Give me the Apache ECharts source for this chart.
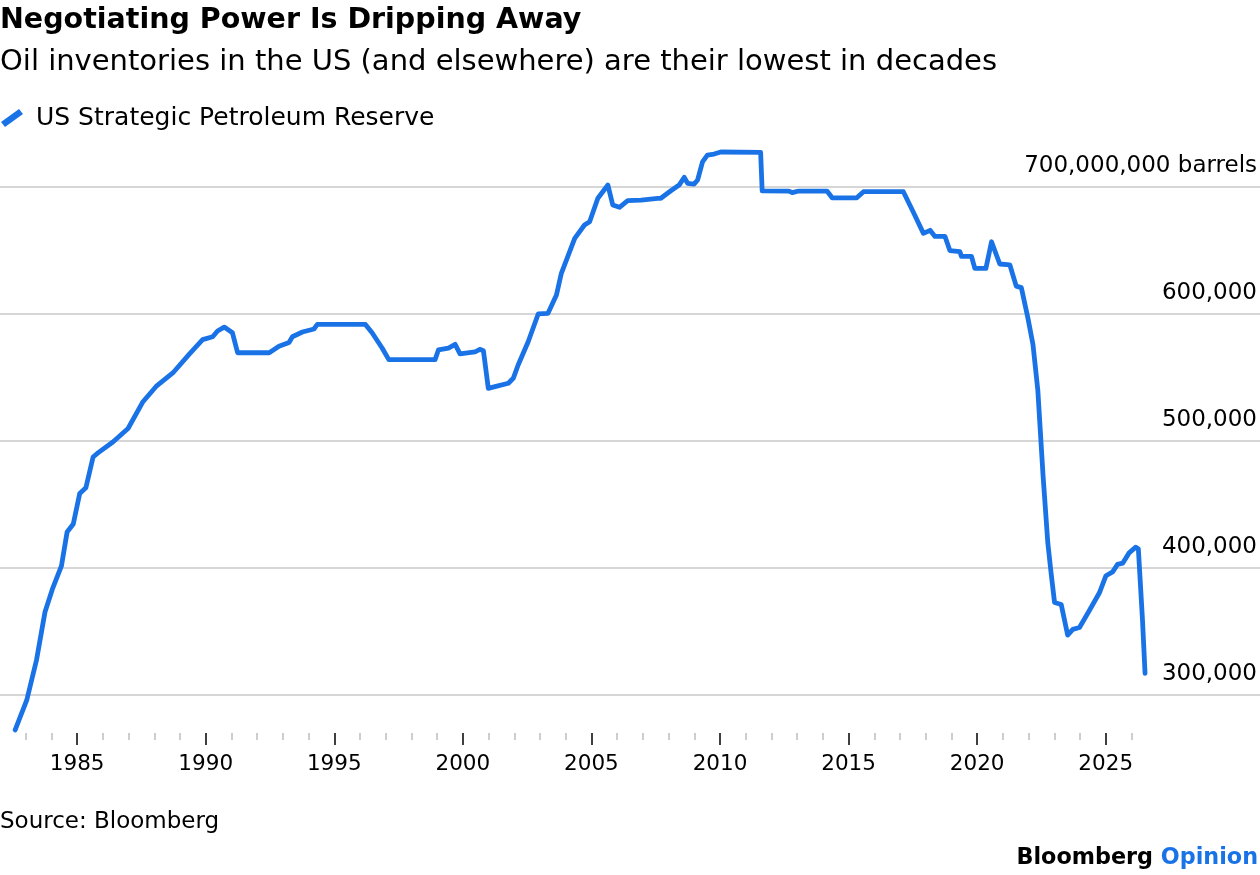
<!DOCTYPE html>
<html>
<head>
<meta charset="utf-8">
<script src="https://cdn.jsdelivr.net/npm/echarts@6/dist/echarts.min.js"></script>
<style>
  html, body { margin: 0; padding: 0; background: #fff; }
  #chart { width: 1260px; height: 875px; }
</style>
</head>
<body>
<div id="chart"></div>
<script>
// 数据：美国战略石油储备（百万桶），按年份小数记录
const years = [
    1982.59, 1983.04, 1983.42, 1983.75, 1984.04, 1984.39, 1984.61, 1984.85, 1985.10, 1985.34,
    1985.62, 1985.81, 1986.39, 1986.98, 1987.56, 1988.07, 1988.72, 1989.37, 1989.88, 1990.27,
    1990.46, 1990.72, 1991.04, 1991.24, 1992.47, 1992.85, 1993.24, 1993.37, 1993.76, 1994.21,
    1994.34, 1996.21, 1996.47, 1996.86, 1997.12, 1998.92, 1999.05, 1999.44, 1999.70, 1999.89,
    2000.47, 2000.66, 2000.80, 2000.99, 2001.25, 2001.77, 2001.96, 2002.15, 2002.54, 2002.93,
    2003.31, 2003.64, 2003.83, 2004.35, 2004.73, 2004.93, 2005.25, 2005.64, 2005.83, 2006.09,
    2006.41, 2006.93, 2007.58, 2007.70, 2008.09, 2008.41, 2008.61, 2008.74, 2008.99, 2009.13,
    2009.32, 2009.51, 2009.77, 2010.03, 2011.58, 2011.64, 2012.68, 2012.81, 2013.06, 2014.16,
    2014.36, 2015.32, 2015.58, 2017.13, 2017.52, 2017.91, 2018.17, 2018.36, 2018.75, 2018.94,
    2019.33, 2019.39, 2019.78, 2019.91, 2020.34, 2020.56, 2020.88, 2021.27, 2021.52, 2021.72,
    2021.97, 2022.17, 2022.36, 2022.56, 2022.75, 2022.88, 2023.01, 2023.27, 2023.52, 2023.72,
    2023.98, 2024.37, 2024.75, 2025.01, 2025.27, 2025.46, 2025.66, 2025.91, 2026.17, 2026.27,
    2026.43, 2026.53
];
const reserve = [
    272.4, 295.8, 327.4, 365.2, 383.3, 401.4, 428.1, 434.4, 458.3, 462.9,
    487.1, 490.3, 498.9, 509.5, 530.6, 542.6, 553.2, 568.2, 579.4, 581.7,
    586.2, 589.3, 584.8, 569.1, 569.1, 574.2, 577.2, 581.7, 585.4, 587.8,
    591.4, 591.4, 584.8, 572.8, 563.7, 563.7, 571.3, 572.8, 575.7, 568.2,
    569.7, 571.8, 570.7, 541.1, 542.4, 545.1, 549.0, 559.5, 577.8, 599.6,
    600.1, 614.5, 631.6, 659.1, 669.6, 672.2, 690.6, 701.0, 685.3, 683.5,
    688.7, 689.2, 690.6, 690.6, 696.5, 701.0, 707.1, 702.4, 701.8, 705.0,
    719.3, 724.6, 725.4, 727.0, 726.7, 696.5, 696.3, 695.0, 696.3, 696.3,
    691.0, 691.0, 695.8, 695.8, 679.6, 663.0, 665.4, 660.6, 660.6, 649.5,
    648.6, 644.9, 644.9, 635.4, 635.4, 656.4, 638.9, 638.3, 621.5, 620.3,
    596.8, 575.7, 539.6, 473.4, 419.2, 395.1, 372.6, 371.1, 347.0, 351.5,
    353.0, 366.5, 380.1, 393.7, 396.7, 402.6, 403.6, 411.7, 416.2, 414.7,
    359.0, 316.9
];

// 刻度
const majorTickYears = [1985, 1990, 1995, 2000, 2005, 2010, 2015, 2020, 2025];
const minorTickYears = [1983, 1984, 1986, 1987, 1988, 1989, 1991, 1992, 1993, 1994, 1996, 1997, 1998, 1999,
    2001, 2002, 2003, 2004, 2006, 2007, 2008, 2009, 2011, 2012, 2013, 2014, 2016, 2017, 2018, 2019,
    2021, 2022, 2023, 2024, 2026];
const yTickValues = [300, 400, 500, 600, 700];
const yTickLabels = ['300,000', '400,000', '500,000', '600,000', '700,000,000 barrels'];

const seriesName = 'US Strategic Petroleum Reserve';
const FONT = '"DejaVu Sans", "Liberation Sans", sans-serif';
const BLUE = '#1a73e6';

const chart = echarts.init(document.getElementById('chart'));

chart.setOption({
    animation: false,
    backgroundColor: '#fff',
    textStyle: { fontFamily: FONT },
    title: [
        {
            text: 'Negotiating Power Is Dripping Away',
            left: 0, top: 6, padding: 0,
            textStyle: { fontFamily: FONT, fontSize: 28.5, fontWeight: 'bold', color: '#000' }
        },
        {
            text: 'Oil inventories in the US (and elsewhere) are their lowest in decades',
            left: 0, top: 48, padding: 0,
            textStyle: { fontFamily: FONT, fontSize: 29, fontWeight: 'normal', color: '#000' }
        },
        {
            text: 'Source: Bloomberg',
            left: 0, top: 811, padding: 0,
            textStyle: { fontFamily: FONT, fontSize: 23, fontWeight: 'normal', color: '#000' }
        },
        {
            text: '{a|Bloomberg} {b|Opinion}',
            right: 2, top: 847, padding: 0,
            textStyle: {
                fontFamily: FONT, fontSize: 22.3, fontWeight: 'bold',
                rich: {
                    a: { fontFamily: FONT, fontSize: 22.3, fontWeight: 'bold', color: '#000' },
                    b: { fontFamily: FONT, fontSize: 22.3, fontWeight: 'bold', color: BLUE }
                }
            }
        }
    ],
    legend: {
        data: [seriesName],
        left: 1, top: 105.5, padding: 0,
        itemWidth: 22, itemHeight: 18,
        icon: 'path://M0,13 L18,0 L22,5 L4,18 Z',
        textStyle: { fontFamily: FONT, fontSize: 25, color: '#000', padding: [0, 0, 0, 8] }
    },
    grid: { left: -3.4, right: -1.3, top: 148.2, bottom: 142, containLabel: false },
    xAxis: [
        {
            type: 'value', min: 1982, max: 2031, position: 'bottom',
            axisLine: { show: false },
            splitLine: { show: false },
            axisTick: { show: true, customValues: majorTickYears, length: 12, lineStyle: { color: '#000', width: 1.5 } },
            axisLabel: { show: true, customValues: majorTickYears, margin: 20, fontFamily: FONT, fontSize: 21.5, color: '#000', formatter: v => String(v) }
        },
        {
            type: 'value', min: 1982, max: 2031, position: 'bottom',
            axisLine: { show: false },
            splitLine: { show: false },
            axisTick: { show: true, customValues: minorTickYears, length: 7, lineStyle: { color: '#bdbdbd', width: 1.5 } },
            axisLabel: { show: false }
        }
    ],
    yAxis: {
        type: 'value', min: 270, max: 730, position: 'right',
        axisLine: { show: false },
        axisTick: { show: false, customValues: yTickValues },
        splitLine: { show: true, lineStyle: { color: '#c8c8c8', width: 1.5 } },
        axisLabel: {
            show: true, inside: true, customValues: yTickValues, margin: 3,
            fontFamily: FONT, fontSize: 23, color: '#000',
            verticalAlign: 'bottom', lineHeight: 23, padding: [0, 0, 9, 0],
            formatter: v => yTickLabels[yTickValues.indexOf(v)] || ''
        }
    },
    series: [{
        name: seriesName,
        type: 'line',
        xAxisIndex: 0,
        showSymbol: false,
        symbol: 'none',
        clip: false,
        lineStyle: { color: BLUE, width: 4.8, join: 'round', cap: 'round' },
        itemStyle: { color: BLUE },
        data: years.map((y, i) => [y, reserve[i]])
    }]
});
</script>
</body>
</html>
